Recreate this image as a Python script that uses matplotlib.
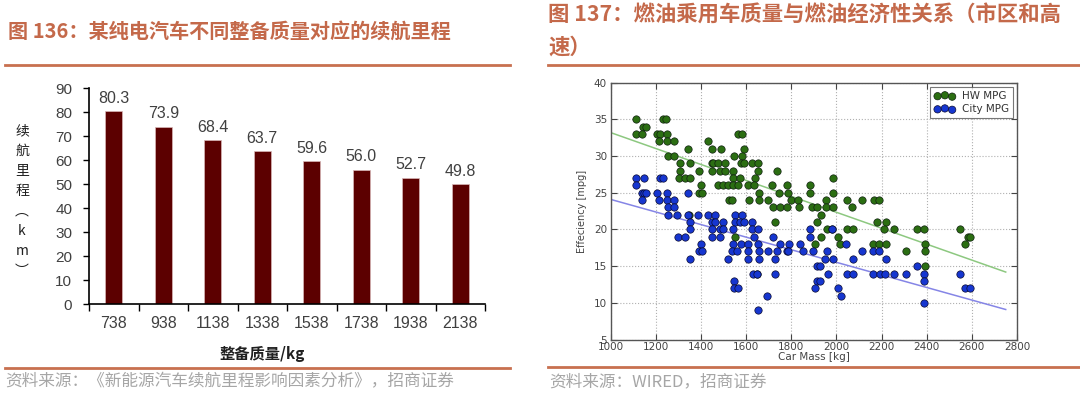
import matplotlib
matplotlib.use('Agg')
import matplotlib.pyplot as plt
from matplotlib.lines import Line2D
import numpy as np

plt.rcParams['font.family'] = ['Noto Sans CJK SC', 'DejaVu Sans']

# ---- left chart: range vs curb mass ----
masses = ['738', '938', '1138', '1338', '1538', '1738', '1938', '2138']
ranges = [80.3, 73.9, 68.4, 63.7, 59.6, 56.0, 52.7, 49.8]

# ---- right chart: car mass [kg] listed per mpg value ----
hw_by_mpg = {
    35: [1111, 1234, 1244],
    34: [1145, 1158],
    33: [1111, 1141, 1205, 1219, 1249, 1566, 1581],
    32: [1215, 1249, 1283, 1430],
    31: [1342, 1451, 1490, 1589],
    30: [1253, 1283, 1549, 1581],
    29: [1308, 1352, 1448, 1456, 1478, 1507, 1578, 1593, 1625, 1655],
    28: [1308, 1392, 1448, 1485, 1507, 1544, 1655, 1736],
    27: [1303, 1330, 1352, 1544, 1574, 1640, 1984],
    26: [1401, 1478, 1500, 1522, 1544, 1563, 1611, 1637, 1717, 1780, 1884],
    25: [1392, 1404, 1658, 1746, 1788, 1884, 1984],
    24: [1525, 1537, 1614, 1658, 1699, 1800, 1832, 1955, 2046, 2113, 2167, 2191],
    23: [1721, 1751, 1780, 1835, 1891, 1913, 1955, 1987, 2068],
    22: [1348, 1931],
    21: [1729, 1913, 2179, 2221],
    20: [1958, 1980, 2046, 2076, 2209, 2256, 2356, 2389, 2546],
    19: [1552, 1931, 2009, 2585, 2593],
    18: [1906, 2017, 2162, 2187, 2221, 2393, 2571],
    17: [2309, 2393],
    15: [2393],
    14: [1648],
}
city_by_mpg = {
    27: [1111, 1150, 1219, 1234],
    26: [1111],
    25: [1141, 1150, 1156, 1205, 1249, 1342],
    24: [1141, 1215, 1249, 1283],
    23: [1253, 1283],
    22: [1256, 1293, 1345, 1389, 1433, 1463, 1552, 1581],
    21: [1352, 1448, 1463, 1500, 1552, 1574, 1589, 1625],
    20: [1352, 1448, 1485, 1500, 1544, 1625, 1655, 1884, 1980],
    19: [1300, 1330, 1448, 1485, 1637, 1718, 1884],
    18: [1401, 1544, 1578, 1611, 1655, 1751, 1791, 1840, 2043],
    17: [1392, 1404, 1537, 1559, 1611, 1658, 1696, 1736, 1780, 1788, 1851,
         1896, 1958, 2113, 2162, 2187],
    16: [1352, 1519, 1611, 1658, 1729, 1950, 1987, 2073, 2221],
    15: [1913, 1928, 2356],
    14: [1633, 1648, 1729, 1965, 2046, 2076, 2162, 2194, 2216, 2256, 2309,
         2389, 2546],
    13: [1549, 1913, 1928, 2389],
    12: [1549, 1563, 1906, 2009, 2571, 2593],
    11: [1695, 2020],
    10: [2389],
    9: [1651],
}
fit_mass = [1000, 2750]
hw_fit = [33.2, 14.2]
city_fit = [24.1, 9.1]

hw_x = [m for k, v in hw_by_mpg.items() for m in v]
hw_y = [k for k, v in hw_by_mpg.items() for m in v]
city_x = [m for k, v in city_by_mpg.items() for m in v]
city_y = [k for k, v in city_by_mpg.items() for m in v]

W, H = 1080, 395
fig = plt.figure(figsize=(W / 100, H / 100), dpi=100)

title_c = '#C4694A'
rule_c = '#C8704F'
src_c = '#A6A6A6'

# titles, rules, sources
fig.text(8 / W, 1 - 31 / H, '图 136：某纯电汽车不同整备质量对应的续航里程',
         fontsize=14.5, fontweight='bold', color=title_c, va='center')
fig.text(548 / W, 1 - 15 / H, '图 137：燃油乘用车质量与燃油经济性关系（市区和高',
         fontsize=15.4, fontweight='bold', color=title_c, va='center')
fig.text(548 / W, 1 - 47 / H, '速）',
         fontsize=15.4, fontweight='bold', color=title_c, va='center')
for x0, x1, y in [(5, 510, 64.5), (548, 1080, 64.5), (5, 510, 367.5), (548, 1080, 366.5)]:
    fig.add_artist(Line2D([x0 / W, x1 / W], [1 - y / H] * 2, color=rule_c, lw=2))
fig.text(5 / W, 1 - 382 / H, '资料来源：《新能源汽车续航里程影响因素分析》，招商证券',
         fontsize=12, color=src_c, va='center')
fig.text(549 / W, 1 - 382 / H, '资料来源：WIRED，招商证券',
         fontsize=12, color=src_c, va='center')

# ---- bar chart ----
ax1 = fig.add_axes([89 / W, 1 - 304 / H, 396 / W, 216 / H])
xpos = np.arange(len(masses))
ax1.bar(xpos, ranges, width=0.34, color='#5C0000', edgecolor='#D9B8B8', linewidth=0.5)
for x, v in zip(xpos, ranges):
    ax1.text(x, v + 2.2, f'{v:.1f}', ha='center', va='bottom', fontsize=11.5,
             color='#404040', family='Liberation Sans')
ax1.set_xlim(-0.5, len(masses) - 0.5)
ax1.set_ylim(0, 90)
ax1.set_yticks(np.arange(0, 91, 10))
ax1.set_xticks(np.arange(-0.5, len(masses), 1))
ax1.set_xticklabels([])
ax1.set_xticks(xpos, minor=True)
ax1.set_xticklabels(masses, minor=True)
ax1.tick_params(axis='x', which='major', direction='out', length=5, width=1)
ax1.tick_params(axis='x', which='minor', length=0, pad=9, labelsize=11.5, labelcolor='#404040')
ax1.tick_params(axis='y', direction='out', length=4, width=1, pad=8, labelsize=11, labelcolor='#404040')
for lab in ax1.get_xticklabels(minor=True) + ax1.get_yticklabels():
    lab.set_family('Liberation Sans')
for s in ['top', 'right']:
    ax1.spines[s].set_visible(False)
for s in ['left', 'bottom']:
    ax1.spines[s].set_linewidth(1.2)
fig.text(22 / W, 1 - 201 / H, '\n'.join(['续', '航', '里', '程', '︵', 'k', 'm', '︶']),
         fontsize=10, linespacing=1.55, ha='center', va='center', color='#202020')
fig.text(262 / W, 1 - 354 / H, '整备质量/kg', fontsize=11, fontweight='bold',
         ha='center', va='center', color='#202020')

# ---- scatter chart ----
ax2 = fig.add_axes([610.5 / W, 1 - 339.6 / H, 406.5 / W, 257 / H])
ax2.plot(fit_mass, hw_fit, color='#8DC880', lw=1.1, zorder=2)
ax2.plot(fit_mass, city_fit, color='#8585E6', lw=1.1, zorder=2)
ax2.scatter(hw_x, hw_y, s=28, color='#2B6E12', edgecolors='#102010', linewidths=0.5,
            label='HW MPG', zorder=3)
ax2.scatter(city_x, city_y, s=28, color='#1636D0', edgecolors='#0A0A30', linewidths=0.5,
            label='City MPG', zorder=3)
ax2.set_xlim(1000, 2800)
ax2.set_ylim(5, 40)
ax2.set_xticks(np.arange(1000, 2801, 200))
ax2.set_yticks(np.arange(5, 41, 5))
ax2.grid(True, ls=':', color='#B0B0B0', lw=0.8)
ax2.set_axisbelow(True)
ax2.tick_params(direction='in', length=4, width=0.8, top=True, right=True,
                labelsize=7.5, labelcolor='#444444', color='#444444')
ax2.tick_params(axis='x', pad=1.5)
ax2.tick_params(axis='y', pad=2.5)
for lab in ax2.get_xticklabels() + ax2.get_yticklabels():
    lab.set_family('DejaVu Sans')
for s in ax2.spines.values():
    s.set_color('#555555')
    s.set_linewidth(1)
ax2.set_xlabel('Car Mass [kg]', fontsize=7.5, color='#444444', family='DejaVu Sans', labelpad=0)
ax2.set_ylabel('Effeciency [mpg]', fontsize=7, color='#444444', family='DejaVu Sans', labelpad=5)
leg = ax2.legend(loc='upper right', scatterpoints=3, fancybox=False,
                 borderaxespad=0.4, handletextpad=0.6, labelspacing=0.3,
                 prop={'family': 'DejaVu Sans', 'size': 7.5})
leg.get_frame().set_edgecolor('#555555')
leg.get_frame().set_linewidth(0.8)
for t in leg.get_texts():
    t.set_color('#333333')

fig.savefig('out.png', dpi=100)
